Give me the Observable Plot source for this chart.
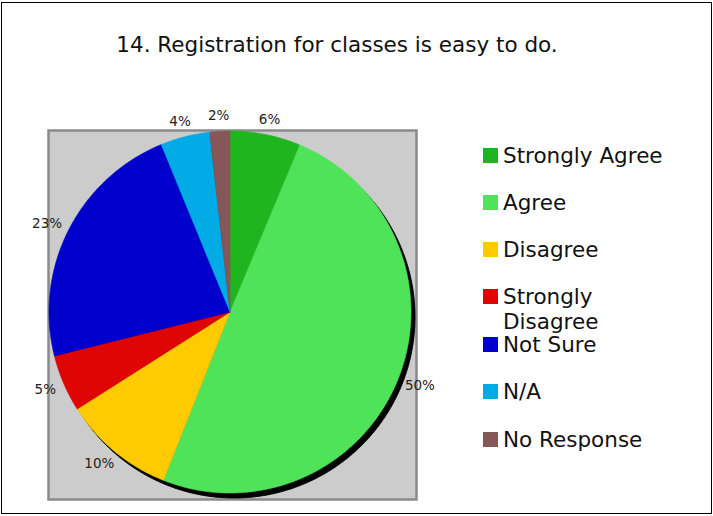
<!DOCTYPE html>
<html>
<head>
<meta charset="utf-8">
<script src="https://cdn.jsdelivr.net/npm/d3@7"></script>
<script src="https://cdn.jsdelivr.net/npm/@observablehq/plot@0.6"></script>
<style>
  html, body { margin: 0; padding: 0; background: #fff; }
  #wrap { position: relative; width: 713px; height: 516px; overflow: hidden; font-family: "DejaVu Sans", sans-serif; }
  #border { position: absolute; left: 1px; top: 2px; width: 709px; height: 510px; border: 1.5px solid #000; pointer-events: none; }
  #title { position: absolute; left: 0; width: 674px; top: 32px; text-align: center; font-size: 21.5px; color: #111; white-space: nowrap; }
  .lg { position: absolute; left: 483px; }
  .sw { position: absolute; left: 0; width: 15px; height: 15px; }
  .lt { position: absolute; left: 20px; top: -5.5px; font-size: 21.5px; line-height: 25px; color: #111; white-space: nowrap; }
  svg { position: absolute; left: 0; top: 0; }
</style>
</head>
<body>
<div id="wrap">
  <div id="chart"></div>
  <div id="title">14. Registration for classes is easy to do.</div>
  <div id="legend"></div>
  <div id="border"></div>
</div>
<script>
const categories = ["Strongly Agree", "Agree", "Disagree", "Strongly Disagree", "Not Sure", "N/A", "No Response"];
const shares = [6.3, 49.7, 10.0, 5.1, 22.7, 4.4, 1.8];
const labels = ["6%", "50%", "10%", "5%", "23%", "4%", "2%"];
const palette = ["#1fb51f", "#4fe35a", "#ffcb00", "#df0505", "#0000cc", "#00abe6", "#875656"];

const total = d3.sum(shares);
const slices = [];
const labelRows = [];
let cum = 0;
categories.forEach((name, i) => {
  const a0 = cum / total * 2 * Math.PI;
  cum += shares[i];
  const a1 = cum / total * 2 * Math.PI;
  slices.push({name, x: 0, y: 0});
  const n = Math.max(2, Math.ceil((a1 - a0) / (Math.PI / 360)));
  for (let k = 0; k <= n; k++) {
    const a = a0 + (a1 - a0) * k / n;
    slices.push({name, x: Math.sin(a), y: Math.cos(a)});
  }
  slices.push({name, x: 0, y: 0});
  const am = (a0 + a1) / 2;
  labelRows.push({name, label: labels[i], s: Math.sin(am), c: Math.cos(am)});
});
const circle = d3.range(0, 721).map(k => ({x: Math.sin(k / 720 * 2 * Math.PI), y: Math.cos(k / 720 * 2 * Math.PI)}));

// labels sit just outside the rim, pushed out by half their text box
const PX = 1 / 181;          // one pixel in pie-radius units
const R0 = 190 * PX;
const halfW = d => (d.label.length === 3 ? 15 : 11) * PX;
const halfH = 6.5 * PX;
const chart = Plot.plot({
  width: 713,
  height: 516,
  marginLeft: 48,
  marginRight: 297,
  marginTop: 130,
  marginBottom: 17,
  x: {domain: [-1.0028, 1.0304], axis: null},
  y: {domain: [-1.0359, 1.0028], axis: null},
  color: {domain: categories, range: palette},
  style: {fontFamily: "DejaVu Sans, sans-serif", background: "transparent", overflow: "visible"},
  marks: [
    Plot.frame({fill: "#cccccc", stroke: "#8a8a8a", strokeWidth: 2.5}),
    Plot.line(circle, {x: "x", y: "y", fill: "#000", stroke: "#000", strokeWidth: 1, dx: 4, dy: 5}),
    Plot.line(slices, {x: "x", y: "y", z: "name", fill: "name", stroke: "name", strokeWidth: 0.6}),
    Plot.text(labelRows, {
      x: d => d.s * R0 + d.s * halfW(d),
      y: d => d.c * R0 + d.c * halfH,
      text: "label",
      fontSize: 13.5, fill: "#222",
      textAnchor: "middle", lineAnchor: "middle"
    })
  ]
});
document.getElementById("chart").appendChild(chart);

// legend
const legend = document.getElementById("legend");
const rowTop = [148, 195, 242, 289, 337, 384, 432];
categories.forEach((name, i) => {
  const g = document.createElement("div");
  g.className = "lg";
  g.style.top = rowTop[i] + "px";
  const sw = document.createElement("div");
  sw.className = "sw";
  sw.style.background = palette[i];
  const t = document.createElement("div");
  t.className = "lt";
  t.innerHTML = name === "Strongly Disagree" ? "Strongly<br>Disagree" : name;
  g.appendChild(sw);
  g.appendChild(t);
  legend.appendChild(g);
});
</script>
</body>
</html>
